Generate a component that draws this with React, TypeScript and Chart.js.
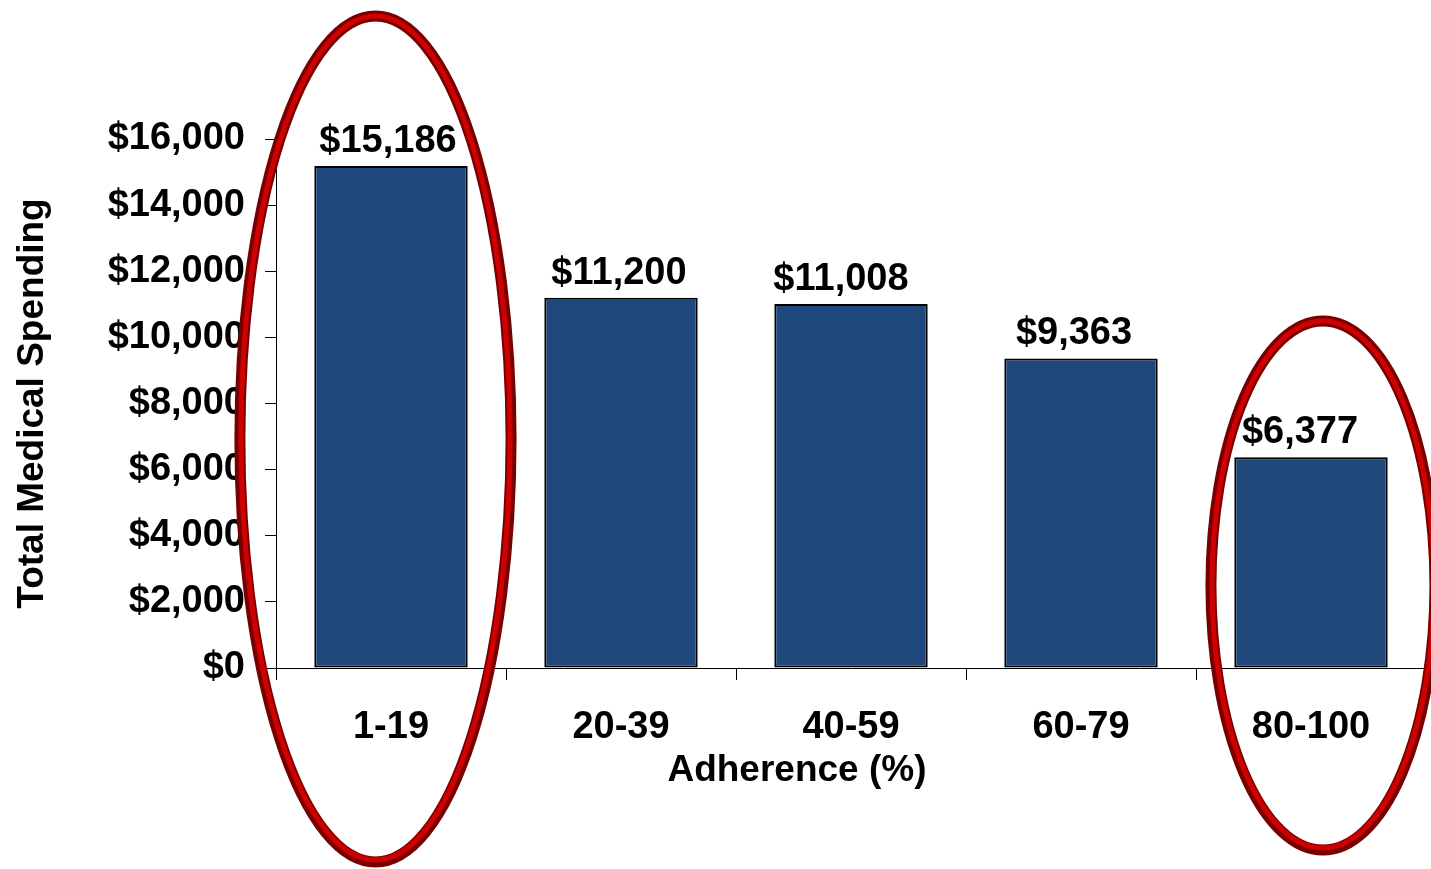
import React, { useEffect, useRef } from "react";
import { Chart, registerables } from "chart.js";

Chart.register(...registerables);

const categories = ["1-19", "20-39", "40-59", "60-79", "80-100"];
const spending = [15186, 11200, 11008, 9363, 6377];
const yTicks = [0, 2000, 4000, 6000, 8000, 10000, 12000, 14000, 16000];
const xTitle = "Adherence (%)";
const yTitle = "Total Medical Spending";

// small horizontal nudges of the value labels (px), as placed in the original
const labelNudge = [-3, -2, -10, -7, -11];

// highlighted categories (red ovals), extents in category/value units
const highlightIndex = [0, 4];
const highlightLeft = [-0.657, -0.435];
const highlightRight = [0.522, 0.539];
const highlightTop = [19720, 10495];
const highlightBottom = [-5868, -5505];

const FONT = "'Liberation Sans', Arial, Helvetica, sans-serif";
const fmt = (v: number) => "$" + v.toLocaleString("en-US");

const labelPlugin = {
  id: "barLabels",
  afterDatasetsDraw(chart: any) {
    const { ctx, chartArea } = chart;
    const meta = chart.getDatasetMeta(0);
    ctx.save();
    ctx.font = `bold 38px ${FONT}`;
    ctx.fillStyle = "#000";
    ctx.textAlign = "center";
    ctx.textBaseline = "alphabetic";
    meta.data.forEach((bar: any, i: number) => {
      ctx.fillText(fmt(spending[i]), bar.x + labelNudge[i], bar.y - 14);
    });
    ctx.font = `bold 37px ${FONT}`;
    ctx.textBaseline = "middle";
    ctx.fillText(xTitle, chartArea.left + (chartArea.right - chartArea.left) * 0.453, 771);
    ctx.restore();
  },
};

const ovalPlugin = {
  id: "ovals",
  afterDraw(chart: any) {
    const { ctx } = chart;
    const xs = chart.scales.x;
    const ys = chart.scales.y;
    ctx.save();
    highlightIndex.forEach((idx, k) => {
      const c = xs.getPixelForValue(idx);
      const w = xs.getPixelForValue(1) - xs.getPixelForValue(0);
      const left = c + highlightLeft[k] * w;
      const right = c + highlightRight[k] * w;
      const top = ys.getPixelForValue(highlightTop[k]);
      const bottom = ys.getPixelForValue(highlightBottom[k]);
      const cx = (left + right) / 2;
      const cy = (top + bottom) / 2;
      const rx = (right - left) / 2;
      const ry = (bottom - top) / 2;
      ctx.beginPath();
      ctx.ellipse(cx, cy, rx, ry, 0, 0, Math.PI * 2);
      ctx.lineWidth = 11;
      ctx.strokeStyle = "#780000";
      ctx.stroke();
      ctx.beginPath();
      ctx.ellipse(cx, cy - 1, rx - 1, ry - 1, 0, 0, Math.PI * 2);
      ctx.lineWidth = 5;
      ctx.strokeStyle = "#cf0000";
      ctx.stroke();
    });
    ctx.restore();
  },
};

export default function App() {
  const ref = useRef<HTMLCanvasElement>(null);
  useEffect(() => {
    if (!ref.current) return;
    const chart = new Chart(ref.current, {
      type: "bar",
      data: {
        labels: categories,
        datasets: [
          {
            data: spending,
            backgroundColor: "#1f497d",
            borderColor: "#000000",
            borderWidth: 2,
            borderSkipped: false,
            categoryPercentage: 1,
            barPercentage: 0.667,
          },
        ],
      },
      options: {
        responsive: false,
        animation: false,
        layout: { padding: { left: 0, top: 139, right: 5, bottom: 0 } },
        plugins: { legend: { display: false }, tooltip: { enabled: false } },
        scales: {
          x: {
            grid: {
              display: true,
              drawOnChartArea: false,
              drawTicks: true,
              tickLength: 12,
              color: "#000",
              offset: true,
            },
            border: { display: true, color: "#000", width: 1 },
            ticks: {
              color: "#000",
              font: { family: FONT, size: 38, weight: "bold" },
              padding: 25,
              maxRotation: 0,
            },
            afterFit(scale: any) {
              scale.height = 201;
            },
          },
          y: {
            min: 0,
            max: 16000,
            grid: {
              display: true,
              drawOnChartArea: false,
              drawTicks: true,
              tickLength: 11,
              color: "#000",
            },
            border: { display: true, color: "#000", width: 1 },
            afterBuildTicks(scale: any) {
              scale.ticks = yTicks.map((v) => ({ value: v }));
            },
            ticks: {
              color: "#000",
              font: { family: FONT, size: 38, weight: "bold" },
              padding: 20,
              callback: (v: any) => fmt(Number(v)),
            },
            title: {
              display: true,
              text: yTitle,
              color: "#000",
              font: { family: FONT, size: 37, weight: "bold" },
              padding: { top: 11, bottom: 0 },
            },
            afterFit(scale: any) {
              scale.width = 276;
            },
          },
        },
      },
      plugins: [labelPlugin, ovalPlugin],
    });
    return () => chart.destroy();
  }, []);
  return (
    <canvas
      ref={ref}
      width={1431}
      height={869}
      style={{ position: "fixed", left: 0, top: 0, width: 1431, height: 869, background: "#fff" }}
    />
  );
}
